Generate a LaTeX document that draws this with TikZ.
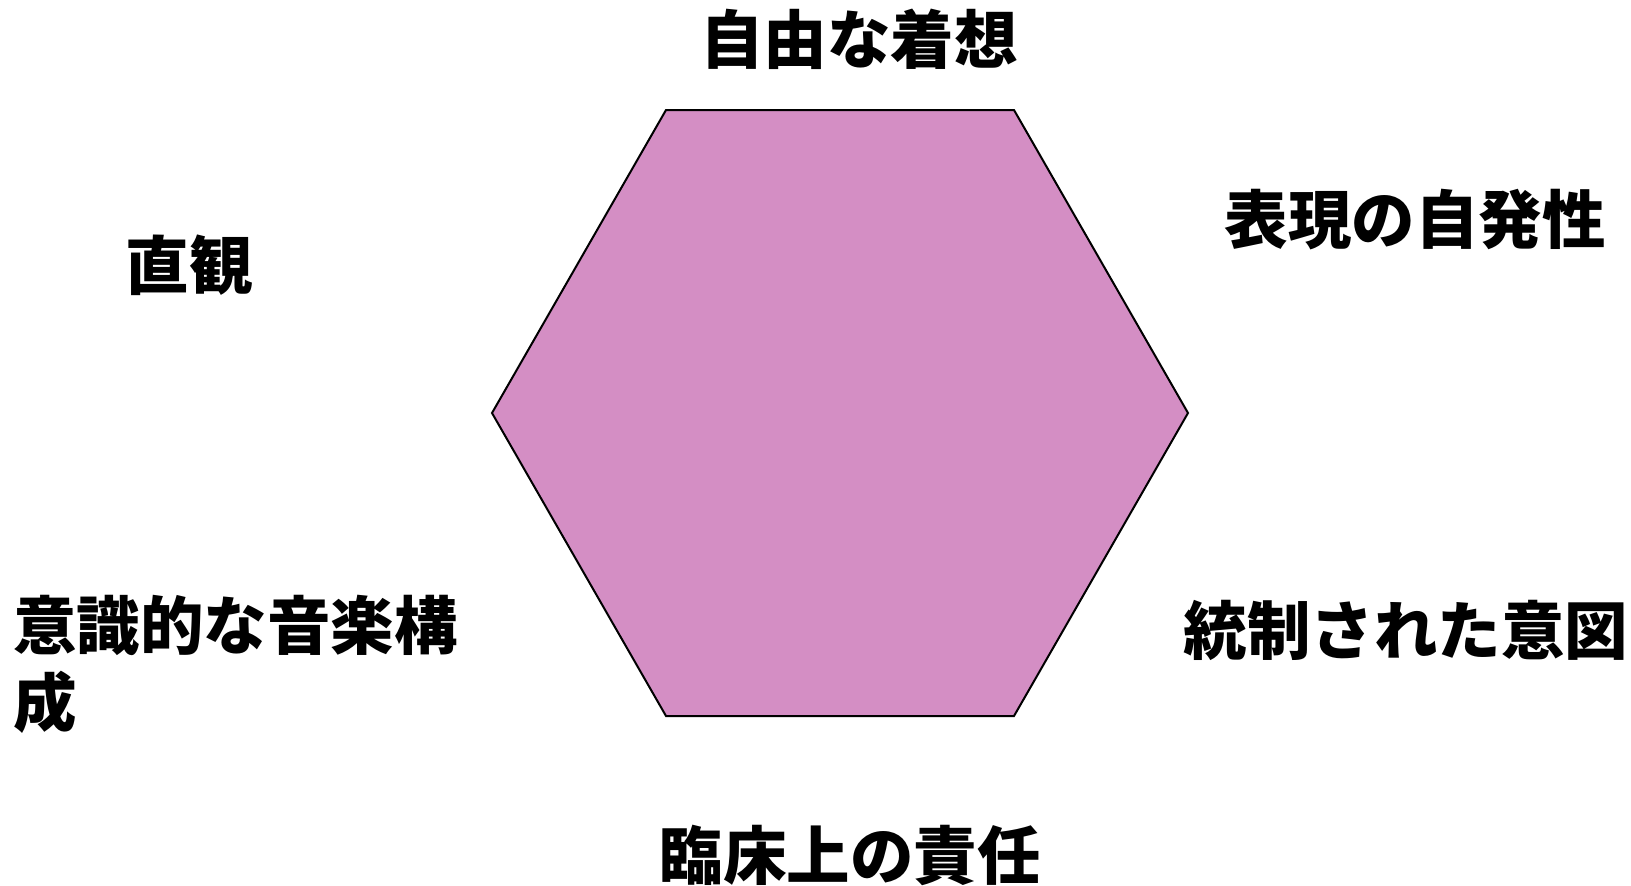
\documentclass[tikz,border=0pt]{standalone}
\usepackage{fontspec}
\newfontfamily\cjk{Noto Sans CJK JP}
\definecolor{hexfill}{RGB}{212,142,196}
\begin{document}
\begin{tikzpicture}[x=1pt,y={(0pt,-1pt)},
  lbl/.style={inner sep=0pt,font=\cjk\bfseries\fontsize{63.5}{77}\selectfont},
  hexa/.style={fill=hexfill,draw=black,line width=2pt,line join=miter}]
\useasboundingbox (0,0) rectangle (1631,886);
\coordinate (v1) at (666,110);
\coordinate (v2) at (1014,110);
\coordinate (v3) at (1188,413);
\coordinate (v4) at (1014,716);
\coordinate (v5) at (666,716);
\coordinate (v6) at (492,413);
\path[hexa] (v1) -- (v2) -- (v3) -- (v4) -- (v5) -- (v6) -- cycle;
\node[lbl] (top) at (859,39) {自由な着想};
\node[lbl] (tr) at (1415,220) {表現の自発性};
\node[lbl] (tl) at (189,265) {直観};
\node[lbl,anchor=north west,align=left] (bl) at (13,595) {意識的な音楽構\\成};
\node[lbl] (br) at (1406,630) {統制された意図};
\node[lbl] (bot) at (850,855) {臨床上の責任};
\end{tikzpicture}
\end{document}
